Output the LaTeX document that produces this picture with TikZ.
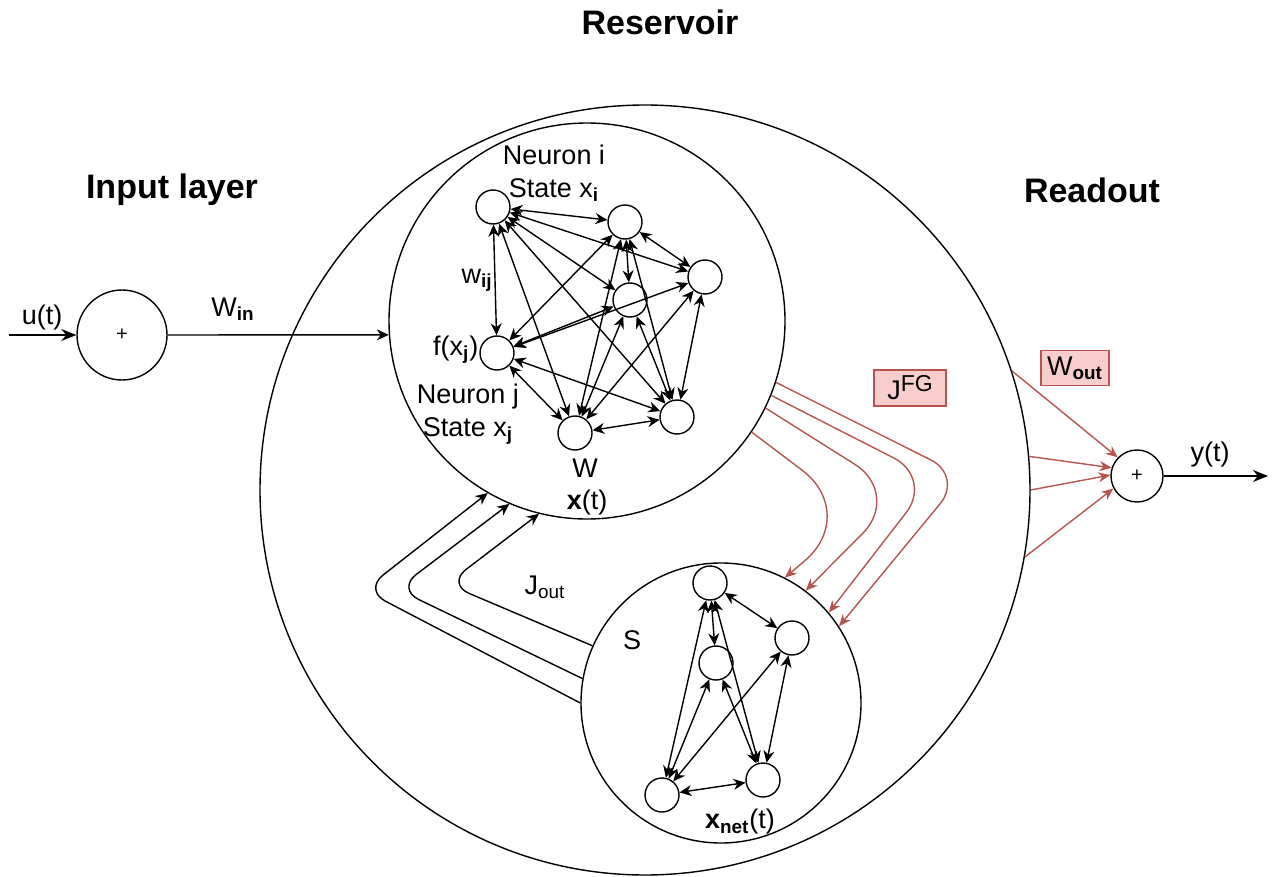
\documentclass[tikz,border=0pt]{standalone}
\usepackage{fontspec}
\setmainfont{Liberation Sans}
\usetikzlibrary{arrows.meta}
\definecolor{redline}{HTML}{B85450}
\definecolor{redfill}{HTML}{F8CECC}
\begin{document}
\begin{tikzpicture}[x=0.5pt,y=-0.5pt,line width=0.7pt,>={Stealth[length=6pt,width=5.5pt]}]
        \tikzstyle{neuron}=[circle, draw, inner sep=0pt, minimum size=17pt]
        \tikzstyle{bignet}=[circle, draw, inner sep=0pt]
        \tikzstyle{sumnode}=[circle, draw, inner sep=0pt, font=\fontsize{10}{12}\selectfont]
        \tikzstyle{heading}=[font=\fontsize{17}{20}\selectfont\bfseries]
        \tikzstyle{lbl}=[font=\fontsize{13.5}{16.5}\selectfont, inner sep=0pt, align=center]
        \tikzstyle{redbox}=[draw=redline, fill=redfill, font=\fontsize{13.5}{16}\selectfont, inner sep=3pt, minimum height=17pt]
        \tikzstyle{bigarrow}=[-{Stealth[length=7.5pt,width=6pt]}]
        \tikzstyle{redarrow}=[redline, -{Stealth[length=6pt,width=5pt]}]
        \useasboundingbox (0,0) rectangle (1279,877);
        % headings
        \node[heading] (Reservoir) at (660,22) {Reservoir};
        \node[heading] (Input) at (172,190) {Input layer};
        \node[heading] (Readout) at (1092,190) {Readout};
        % reservoir, network W and network S
        \node[bignet, minimum size=385pt] (res) at (645,490) {};
        \node[bignet, minimum size=198pt] (W) at (587,321) {};
        \node[bignet, minimum size=140pt] (S) at (721,703) {};
        % input and output sums
        \node[sumnode, minimum size=45pt] (sumin) at (122,335) {+};
        \node[sumnode, minimum size=26pt] (sumout) at (1137,476) {+};
        \coordinate (u) at (9,335);
        \coordinate (y) at (1268,476);
        \draw[bigarrow] (u) -- (sumin);
        \draw[->] (sumin) -- (W.184);
        \draw[bigarrow] (sumout) -- (y);
        \node[lbl] (ulbl) at (42,318) {u(t)};
        \node[lbl] (Win) at (233,309) {W\textsubscript{\textbf{in}}};
        \node[lbl] (ylbl) at (1210,455) {y(t)};
        % neurons of W
        \foreach \n/\x/\y in {1/493/207, 2/625/222, 3/705/277, 4/630/300, 5/497/353, 6/575/433, 7/677/417}
            \node[neuron] (n\n) at (\x,\y) {};
        \foreach \a/\b in {1/2,1/3,1/4,1/5,1/6,1/7,2/3,2/4,2/5,2/6,2/7,3/5,3/6,3/7,4/5,4/6,4/7,5/6,5/7,6/7}
            \path[<->] (n\a) edge (n\b);
        \node[lbl] (ni) at (554,173) {Neuron i\\State x\textsubscript{\textbf{i}}};
        \node[lbl] (wij) at (477,280) {w\textsubscript{\textbf{ij}}};
        \node[lbl, anchor=east] (fxj) at (479,350) {f(x\textsubscript{\textbf{j}})};
        \node[lbl] (nj) at (468,414) {Neuron j\\State x\textsubscript{\textbf{j}}};
        \node[lbl] (Wlbl) at (585,468) {W};
        \node[lbl] (xt) at (587,503) {\textbf{x}(t)};
        % neurons of S
        \foreach \n/\x/\y in {1/710/583, 2/792/638, 3/716/663, 4/662/795, 5/763/780}
            \node[neuron] (s\n) at (\x,\y) {};
        \foreach \a/\b in {1/2,1/3,1/4,1/5,2/4,2/5,3/4,3/5,4/5}
            \path[<->] (s\a) edge (s\b);
        \node[lbl] (Slbl) at (632,640) {S};
        \node[lbl] (xnet) at (740,822) {\textbf{x\textsubscript{net}}(t)};
        % feedback J_out from S to W
        \coordinate (jo1) at (364,590);
        \coordinate (jo2) at (397,589);
        \coordinate (jo3) at (447,584);
        \draw[->, rounded corners=12pt] (S.180) -- (jo1) -- (W.240);
        \draw[->, rounded corners=12pt] (S.170) -- (jo2) -- (W.247);
        \draw[->, rounded corners=12pt] (S.156) -- (jo3) -- (W.256);
        \node[lbl] (Jout) at (545,587) {J\textsubscript{out}};
        % forcing J^FG from W to S
        \coordinate (fg1) at (963,476);
        \coordinate (fg2) at (933,478);
        \coordinate (fg3) at (902,494);
        \coordinate (fg4) at (860,514);
        \draw[redarrow, rounded corners=18pt] (W.-18) -- (fg1) -- (S.33);
        \draw[redarrow, rounded corners=22pt] (W.-22) -- (fg2) -- (S.40);
        \draw[redarrow, rounded corners=28pt] (W.-26) -- (fg3) -- (S.53);
        \draw[redarrow, rounded corners=36pt] (W.-34) -- (fg4) -- (S.63);
        \node[redbox, minimum width=36pt] (JFG) at (910,388) {J\raisebox{0.55ex}{\fontsize{11.5}{12}\selectfont FG}};
        % readout W_out
        \foreach \a/\b in {18/136, 5/162, 0/178, -10/208}
            \draw[redarrow] (res.\a) -- (sumout.\b);
        \node[redbox] (Wout) at (1075,368) {W\textsubscript{\textbf{out}}};
      \end{tikzpicture}
\end{document}
